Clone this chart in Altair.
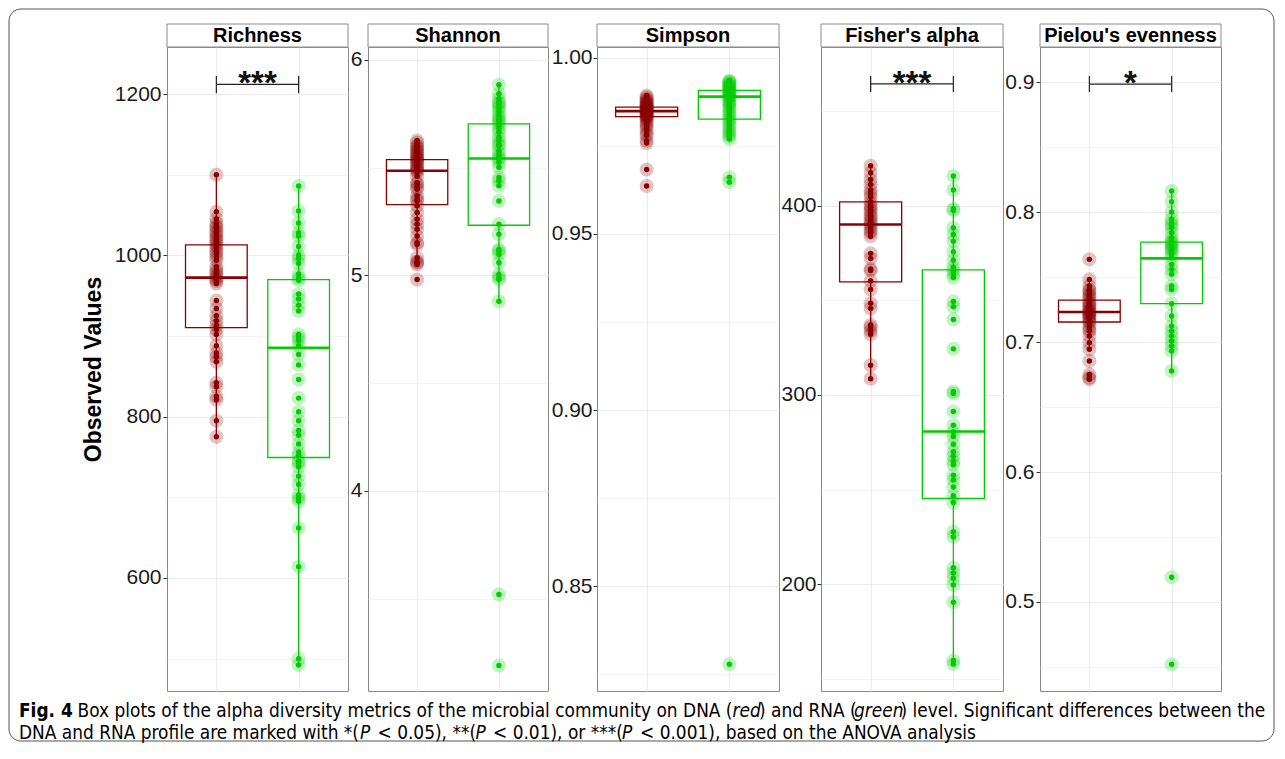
import altair as alt
import pandas as pd

DNA_C = "#8B0000"
RNA_C = "#00CC00"
FRAME = "#8a8a8a"
GRID = "#ebebeb"
AX_FONT = "Liberation Sans"
CAP_FONT = "Liberation Sans Narrow, DejaVu Sans Condensed, Liberation Sans"

groups = ["DNA", "RNA"]

rich_dna = [1100, 1054, 1045, 1040, 1036, 1034, 1030, 1027, 1024, 1021, 1018, 1015, 1012, 1009,
            1005, 1002, 998, 994, 986, 982, 979, 976, 973, 970, 968, 965, 944, 934, 925, 919, 913,
            908, 902, 888, 879, 874, 868, 842, 837, 825, 821, 795, 775]
rich_rna = [1086, 1055, 1040, 1028, 1024, 1011, 1000, 996, 990, 977, 972, 969, 952, 946, 938, 931,
            902, 898, 894, 888, 877, 864, 846, 823, 806, 795, 783, 777, 766, 756, 752, 745, 743,
            738, 726, 716, 703, 699, 695, 662, 614, 500, 492]
shan_dna = [5.626, 5.615, 5.602, 5.595, 5.588, 5.579, 5.572, 5.565, 5.556, 5.55, 5.545, 5.538,
            5.533, 5.525, 5.518, 5.509, 5.50, 5.494, 5.488, 5.48, 5.46, 5.43, 5.424, 5.41, 5.40,
            5.37, 5.355, 5.346, 5.323, 5.292, 5.261, 5.238, 5.214, 5.183, 5.152, 5.144, 5.082,
            5.065, 5.059, 5.051, 4.981]
shan_rna = [5.885, 5.843, 5.82, 5.804, 5.797, 5.785, 5.773, 5.758, 5.742, 5.73, 5.719, 5.71,
            5.696, 5.68, 5.665, 5.641, 5.626, 5.61, 5.602, 5.579, 5.564, 5.548, 5.54, 5.525,
            5.502, 5.455, 5.44, 5.416, 5.346, 5.238, 5.191, 5.12, 5.113, 5.098, 5.059, 5.005,
            4.99, 4.981, 4.88, 3.52, 3.19]
simp_dna = [0.9893, 0.9888, 0.9884, 0.988, 0.9877, 0.9874, 0.9871, 0.9868, 0.9866, 0.9864,
            0.9862, 0.986, 0.9858, 0.9856, 0.9854, 0.9852, 0.985, 0.9849, 0.9847, 0.9845, 0.9843,
            0.9841, 0.9839, 0.9837, 0.9835, 0.9833, 0.983, 0.9826, 0.9822, 0.9815, 0.981, 0.9803,
            0.9795, 0.9785, 0.978, 0.9765, 0.9758, 0.9683, 0.9636]
simp_rna = [0.9936, 0.9933, 0.993, 0.9928, 0.9925, 0.9922, 0.992, 0.9917, 0.9914, 0.9911, 0.9908,
            0.9905, 0.9902, 0.99, 0.9897, 0.9894, 0.9891, 0.9889, 0.9885, 0.988, 0.9875, 0.987,
            0.9865, 0.986, 0.9853, 0.9846, 0.984, 0.9833, 0.9826, 0.982, 0.9812, 0.9805, 0.9797,
            0.979, 0.9783, 0.9777, 0.977, 0.9661, 0.9647, 0.8278]
fish_dna = [421.3, 417.6, 414, 411.3, 408.5, 406.7, 404.9, 402.2, 400.5, 399.5, 398, 396.7, 395,
            394, 392.5, 391.3, 390, 388.5, 387, 385.8, 384, 374.9, 372.2, 366.7, 365.8, 360.4,
            355.8, 348.5, 345.8, 337, 335.8, 334, 332.2, 315.8, 308.6]
fish_rna = [415.8, 408.5, 398.5, 397.6, 388.5, 384.9, 381.3, 375.8, 371.3, 367.6, 365.8, 364,
            362.2, 349.5, 346.7, 340, 324.4, 301.8, 300.8, 291.3, 284, 280.4, 278, 274, 270,
            267.6, 264.9, 263.1, 257.6, 255, 251.3, 246.7, 243.1, 227.7, 224.9, 208.6, 205.8,
            203.1, 199.5, 190.4, 159.5, 157.7]
piel_dna = [0.7636, 0.7482, 0.7431, 0.74, 0.7392, 0.737, 0.7354, 0.734, 0.7315, 0.73, 0.7288,
            0.7277, 0.726, 0.7245, 0.7238, 0.723, 0.722, 0.7212, 0.72, 0.719, 0.718, 0.7162,
            0.715, 0.7123, 0.71, 0.7085, 0.7046, 0.6995, 0.6944, 0.6854, 0.6751, 0.6726, 0.6713]
piel_rna = [0.8162, 0.808, 0.8, 0.7944, 0.7918, 0.79, 0.7879, 0.7841, 0.7803, 0.7777, 0.7765,
            0.7751, 0.774, 0.7726, 0.7715, 0.77, 0.7674, 0.7649, 0.7597, 0.7559, 0.7521, 0.7431,
            0.7405, 0.7295, 0.72, 0.7123, 0.7085, 0.7046, 0.7008, 0.6969, 0.6931, 0.6777, 0.519,
            0.452]

# box statistics: lower whisker, Q1, median, Q3, upper whisker
rich_box = {"DNA": [775, 910.5, 972.4, 1013, 1100], "RNA": [492, 749.4, 885.4, 969.9, 1086]}
shan_box = {"DNA": [5.051, 5.329, 5.486, 5.537, 5.626], "RNA": [4.88, 5.233, 5.543, 5.703, 5.885]}
simp_box = {"DNA": [0.9795, 0.9833, 0.9849, 0.986, 0.9888], "RNA": [0.977, 0.9826, 0.989, 0.9908, 0.9936]}
fish_box = {"DNA": [308.6, 359.8, 390.2, 402.2, 421.3], "RNA": [157.7, 245.3, 280.7, 366.2, 415.8]}
piel_box = {"DNA": [0.6944, 0.7154, 0.7231, 0.7323, 0.7482], "RNA": [0.6777, 0.7295, 0.7644, 0.7769, 0.8162]}

# significance brackets: label, bar level, tick bottom, tick top
rich_sig = ("***", 1212, 1201, 1222.5)
fish_sig = ("***", 464.6, 460.3, 468.8)
piel_sig = ("*", 0.89846, 0.8923, 0.9046)

# caption runs: (text, style)
cap1_runs = [("Fig. 4", "bold"),
             ("Box plots of the alpha diversity metrics of the microbial community on DNA (", "normal"),
             ("red", "italic"), (") and RNA (", "normal"), ("green", "italic"),
             (") level. Significant differences between the", "normal")]
cap2_runs = [("DNA and RNA profile are marked with *(", "normal"), ("P", "italic"),
             ("< 0.05), **(", "normal"), ("P", "italic"), ("< 0.01), or ***(", "normal"),
             ("P", "italic"), ("< 0.001), based on the ANOVA analysis", "normal")]

H = 644
POS = "datum.group === 'DNA' ? 1 : 2"
X0 = 167   # page x of the first panel's plot area
Y0 = 700   # page y of the caption block origin


def panel(name, dna, rna, box, domain, major, minor, fmt, width, gap, sig=None, ytitle=None,
          lpad=2):
    pts = pd.DataFrame({"group": ["DNA"] * len(dna) + ["RNA"] * len(rna),
                        "value": list(dna) + list(rna)})
    bx = pd.DataFrame({"group": groups,
                       "lo": [box[g][0] for g in groups], "q1": [box[g][1] for g in groups],
                       "med": [box[g][2] for g in groups], "q3": [box[g][3] for g in groups],
                       "hi": [box[g][4] for g in groups]})
    one = pd.DataFrame({"k": [0]})

    xs = alt.Scale(domain=[0.4, 2.6], nice=False, zero=False)
    xax = alt.Axis(values=[1, 2], labels=False, ticks=False, domain=False, grid=True,
                   gridColor=GRID, gridWidth=1.1, title=None)

    def X(f):
        return alt.X(f, type="quantitative", scale=xs, axis=xax)

    ys = alt.Scale(domain=domain, nice=False, zero=False)
    majs = "[" + ",".join(repr(v) for v in major) + "]"
    test = f"indexof({majs}, datum.value) >= 0"
    yax_kw = dict(values=sorted(major + minor),
                  labelExpr=f"{test} ? format(datum.value, '{fmt}') : ''",
                  tickOpacity={"condition": {"test": test, "value": 1}, "value": 0},
                  gridWidth={"condition": {"test": test, "value": 1.1}, "value": 0.6},
                  gridColor=GRID, domain=False, tickSize=4, tickColor="#333333",
                  labelFont=AX_FONT, labelFontSize=21, labelColor="#1a1a1a", labelPadding=lpad,
                  labelOverlap=False, labelFlush=False)
    if ytitle:
        yax = alt.Axis(title=ytitle, titleFont=AX_FONT, titleFontSize=23, titleFontWeight="bold",
                       titleColor="black", titlePadding=9, **yax_kw)
    else:
        yax = alt.Axis(title=None, **yax_kw)

    def Y(f):
        return alt.Y(f, type="quantitative", scale=ys, axis=yax)

    col = alt.Color("group:N", scale=alt.Scale(domain=groups, range=[DNA_C, RNA_C]), legend=None)
    stk = alt.Stroke("group:N", scale=alt.Scale(domain=groups, range=[DNA_C, RNA_C]), legend=None)

    bbase = alt.Chart(bx).transform_calculate(pos=POS).transform_calculate(
        x1="datum.pos - 0.375", x2="datum.pos + 0.375")
    whisk = bbase.mark_rule(strokeWidth=1.3).encode(x=X("pos"), y=Y("lo"), y2="hi", color=col)
    boxr = bbase.mark_rect(fill="white", strokeWidth=1.3).encode(
        x=X("x1"), x2="x2", y=Y("q1"), y2="q3", stroke=stk)
    med = bbase.mark_rule(strokeWidth=2.6).encode(x=X("x1"), x2="x2", y=Y("med"), color=col)

    pbase = alt.Chart(pts).transform_calculate(pos=POS)
    halo = pbase.mark_circle(size=200, opacity=0.24).encode(x=X("pos"), y=Y("value"), color=col)
    dots = pbase.mark_circle(size=30, opacity=1).encode(x=X("pos"), y=Y("value"), color=col)

    head = alt.Chart(one).mark_rect(fill="white", stroke=FRAME, strokeWidth=1).encode(
        x=alt.value(0), x2=alt.value(width), y=alt.value(-23), y2=alt.value(0))
    htxt = alt.Chart(one).mark_text(font=AX_FONT, fontSize=20, fontWeight="bold", color="black",
                                    align="center", baseline="middle").encode(
        x=alt.value(width / 2), y=alt.value(-11), text=alt.value(name))
    layers = [whisk, boxr, med, halo, dots, head, htxt]
    if gap:
        layers.append(alt.Chart(one).mark_rule(opacity=0, strokeOpacity=0).encode(
            x=alt.value(-gap), x2=alt.value(-gap + 1), y=alt.value(H / 2)))
    if sig:
        sd = pd.DataFrame({"label": [sig[0]], "y": [sig[1]], "lo": [sig[2]], "hi": [sig[3]],
                           "a": [1], "b": [2], "m": [1.5]})
        sc = alt.Chart(sd)
        layers += [
            sc.mark_rule(color="#222222", strokeWidth=1.2).encode(x=X("a"), x2="b", y=Y("y")),
            sc.mark_rule(color="#222222", strokeWidth=1.2).encode(x=X("a"), y=Y("lo"), y2="hi"),
            sc.mark_rule(color="#222222", strokeWidth=1.2).encode(x=X("b"), y=Y("lo"), y2="hi"),
            sc.mark_text(font=AX_FONT, fontSize=33, fontWeight="bold", color="#111111",
                         align="center", baseline="alphabetic", dy=10).encode(
                x=X("m"), y=Y("y"), text="label:N"),
        ]
    return alt.layer(*layers).properties(width=width, height=H)


p1 = panel("Richness", rich_dna, rich_rna, rich_box, [459.9, 1258.3], [600, 800, 1000, 1200],
           [500, 700, 900, 1100], "d", 181, 0, rich_sig, "Observed Values")
p2 = panel("Shannon", shan_dna, shan_rna, shan_box, [3.072, 6.06], [4, 5, 6], [3.5, 4.5, 5.5],
           "d", 180, 17)
p3 = panel("Simpson", simp_dna, simp_rna, simp_box, [0.8202, 1.0031], [0.85, 0.9, 0.95, 1.0],
           [0.825, 0.875, 0.925, 0.975], ".2f", 182, 47, lpad=1)
p4 = panel("Fisher's alpha", fish_dna, fish_rna, fish_box, [143.4, 484.1], [200, 300, 400],
           [150, 250, 350, 450], "d", 182, 39, fish_sig, lpad=1)
p5 = panel("Pielou's evenness", piel_dna, piel_rna, piel_box, [0.4315, 0.927],
           [0.5, 0.6, 0.7, 0.8, 0.9], [0.45, 0.55, 0.65, 0.75, 0.85], ".1f", 181, 35, piel_sig)

row = alt.hconcat(p1, p2, p3, p4, p5, spacing=0)

one = pd.DataFrame({"k": [0]})
CAP_SIZE = 18.9


def cap_text(txt, style, x, y, align="left"):
    kw = dict(font=CAP_FONT, fontSize=CAP_SIZE, color="black", align=align, baseline="middle")
    if style == "bold":
        kw["fontWeight"] = "bold"
    if style == "italic":
        kw["fontStyle"] = "italic"
    return alt.Chart(one).mark_text(**kw).encode(
        x=alt.value(x - X0), y=alt.value(y - Y0), text=alt.value(txt))


# page-x anchors where each caption run starts (italic words sit between normal runs)
L1, L2 = 711, 733
cap_layers = [
    cap_text(cap1_runs[0][0], "bold", 19, L1),
    cap_text(cap1_runs[1][0], "normal", 732.5, L1, "right"),
    cap_text(cap1_runs[2][0], "italic", 732.5, L1),
    cap_text(cap1_runs[3][0], "normal", 759, L1),
    cap_text(cap1_runs[4][0], "italic", 854, L1),
    cap_text(cap1_runs[5][0], "normal", 900.5, L1),
    cap_text(cap2_runs[0][0], "normal", 19, L2),
    cap_text(cap2_runs[1][0], "italic", 360, L2),
    cap_text(cap2_runs[2][0], "normal", 377.5, L2),
    cap_text(cap2_runs[3][0], "italic", 475.5, L2),
    cap_text(cap2_runs[4][0], "normal", 493, L2),
    cap_text(cap2_runs[5][0], "italic", 622, L2),
    cap_text(cap2_runs[6][0], "normal", 640, L2),
]
border = alt.Chart(one).mark_rect(filled=False, stroke="#555555", strokeWidth=1,
                                  cornerRadius=12).encode(
    x=alt.value(9 - X0), x2=alt.value(1274 - X0), y=alt.value(9 - Y0), y2=alt.value(741 - Y0))
caption = alt.layer(border, *cap_layers).properties(
    width=10, height=10, view=alt.ViewBackground(stroke="transparent"))

chart = alt.vconcat(row, caption, spacing=-684).properties(
    padding={"left": 0, "top": 0, "right": 0, "bottom": 0}
).configure_view(stroke=FRAME, strokeWidth=1)

chart.save("out.html", embed_options={"renderer": "svg", "actions": False})
